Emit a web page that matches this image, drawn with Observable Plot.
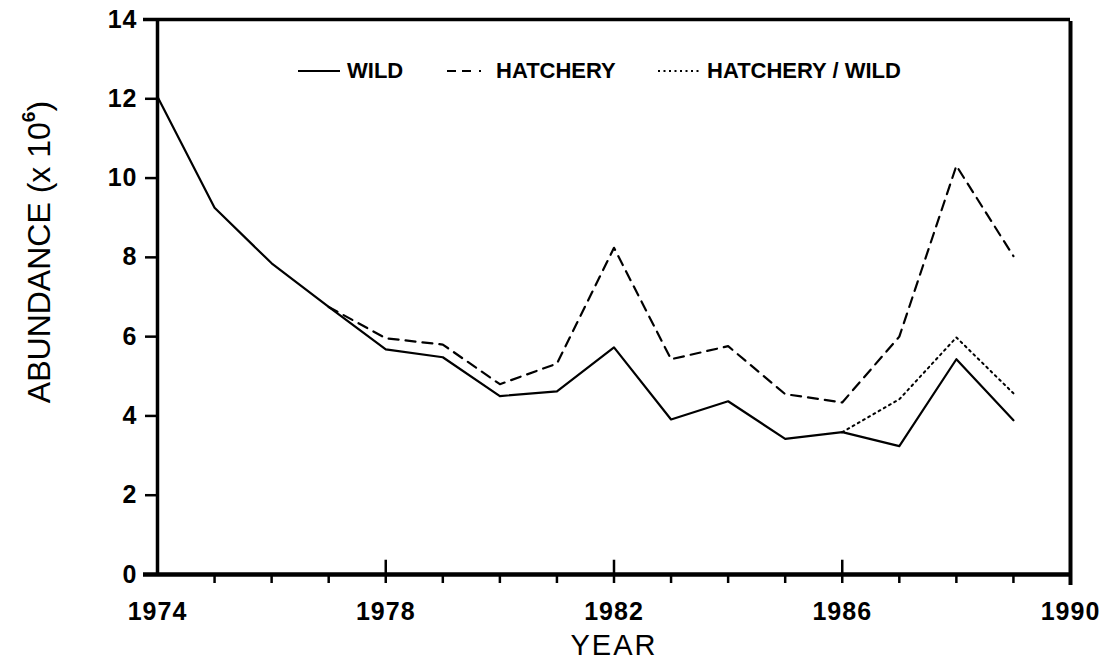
<!DOCTYPE html>
<html><head><meta charset="utf-8">
<script src="https://cdn.jsdelivr.net/npm/d3@7"></script>
<script src="https://cdn.jsdelivr.net/npm/@observablehq/plot@0.6"></script>
<style>
body{margin:0;background:#fff;}
#wrap{position:relative;width:1111px;height:663px;font-family:"Liberation Sans",Arial,sans-serif;color:#000;}
#ylab{position:absolute;left:37px;top:252px;transform:translate(-50%,-50%) rotate(-90deg);font-size:32px;white-space:nowrap;line-height:1;}
#ylab sup{font-size:0.6em;font-weight:bold;vertical-align:0.75em;}
.leg{position:absolute;top:58px;height:26px;display:flex;align-items:center;font-size:22px;font-weight:bold;white-space:nowrap;}
.leg svg{margin-right:7px;}
</style></head>
<body>
<div id="wrap">
  <div id="chart"></div>
  <div id="ylab">ABUNDANCE (x 10<sup>6</sup>)</div>
  <div id="legend"></div>
</div>
<script>
const years = [1974,1975,1976,1977,1978,1979,1980,1981,1982,1983,1984,1985,1986,1987,1988,1989];
const wild = [12.05,9.25,7.85,6.75,5.68,5.48,4.5,4.62,5.73,3.91,4.37,3.42,3.59,3.24,5.43,3.89];
const hatchery = [null,null,null,6.75,5.96,5.8,4.8,5.32,8.24,5.43,5.76,4.55,4.34,6.0,10.31,8.03];
const hatcheryWild = [null,null,null,null,null,null,null,null,null,null,null,null,3.59,4.42,5.98,4.57];
const yTicks = [0,2,4,6,8,10,12,14];
const majorYears = [1974,1978,1982,1986,1990];
const minorYears = [1975,1976,1977,1978,1979,1980,1981,1982,1983,1984,1985,1986,1987,1988,1989];
const seriesNames = ["WILD","HATCHERY","HATCHERY / WILD"];
const dashes = ["none","10,7","2,4"];

const rows = (vals) => years.map((y,i)=>({year:y, value:vals[i]}));

const chart = Plot.plot({
  width: 1111, height: 663,
  marginLeft: 157, marginRight: 41, marginTop: 19, marginBottom: 89,
  style: {fontFamily: '"Liberation Sans", Arial, sans-serif', background: "#fff", color: "#000"},
  x: {domain: [1974, 1990]},
  y: {domain: [0, 14]},
  marks: [
    Plot.axisY({ticks: yTicks, tickSize: 12, tickPadding: 8, tickFormat: d => String(d), fontSize: 25, fontWeight: "bold", label: null, strokeWidth: 2.5}),
    Plot.axisX({ticks: minorYears, tickSize: 9, tickFormat: () => "", label: null, strokeWidth: 2.5}),
    Plot.axisX({ticks: majorYears, tickSize: 0, tickPadding: 28, tickFormat: d => String(d), fontSize: 25, fontWeight: "bold", label: "YEAR", labelAnchor: "center", labelArrow: "none", labelOffset: 80}),
    Plot.ruleX(majorYears.slice(1,4), {y1: 0, y2: 0.36, strokeWidth: 2.5}),
    Plot.ruleY([0], {strokeWidth: 4.5, insetLeft: -14}),
    Plot.ruleY([14], {strokeWidth: 3.5, insetLeft: -14}),
    Plot.ruleX([1974], {strokeWidth: 3.5}),
    Plot.ruleX([1990], {strokeWidth: 4, y1: 14, y2: 0, insetTop: 2, insetBottom: -11}),
    Plot.line(rows(wild), {x: "year", y: "value", stroke: "#000", strokeWidth: 2.2}),
    Plot.line(rows(hatchery), {x: "year", y: "value", stroke: "#000", strokeWidth: 2.2, strokeDasharray: dashes[1]}),
    Plot.line(rows(hatcheryWild), {x: "year", y: "value", stroke: "#000", strokeWidth: 2, strokeDasharray: dashes[2]})
  ]
});
chart.style.position = "absolute";
chart.style.left = "0";
chart.style.top = "0";
document.getElementById("chart").appendChild(chart);
chart.querySelectorAll("text").forEach(t => {
  if (t.textContent === "YEAR") { t.style.fontSize="29px"; t.style.fontWeight="normal"; t.style.letterSpacing="2px"; }
  else if (/^\d+$/.test(t.textContent)) { t.style.letterSpacing = "1px"; }
});

// legend
const legendLeft = [298, 447, 658];
const legend = document.getElementById("legend");
seriesNames.forEach((name, i) => {
  const d = document.createElement("div");
  d.className = "leg";
  d.style.left = legendLeft[i] + "px";
  const ns = "http://www.w3.org/2000/svg";
  const s = document.createElementNS(ns, "svg");
  s.setAttribute("width", "42"); s.setAttribute("height", "10");
  const l = document.createElementNS(ns, "line");
  l.setAttribute("x1", "0"); l.setAttribute("x2", "42"); l.setAttribute("y1", "5"); l.setAttribute("y2", "5");
  l.setAttribute("stroke", "#000"); l.setAttribute("stroke-width", i === 2 ? "2" : "2.2");
  if (i === 1) l.setAttribute("stroke-dasharray", "9,6,9,8,2,8");
  if (i === 2) l.setAttribute("stroke-dasharray", "2,3.5");
  s.appendChild(l);
  d.appendChild(s);
  d.appendChild(document.createTextNode(name));
  legend.appendChild(d);
});
</script>
</body></html>
